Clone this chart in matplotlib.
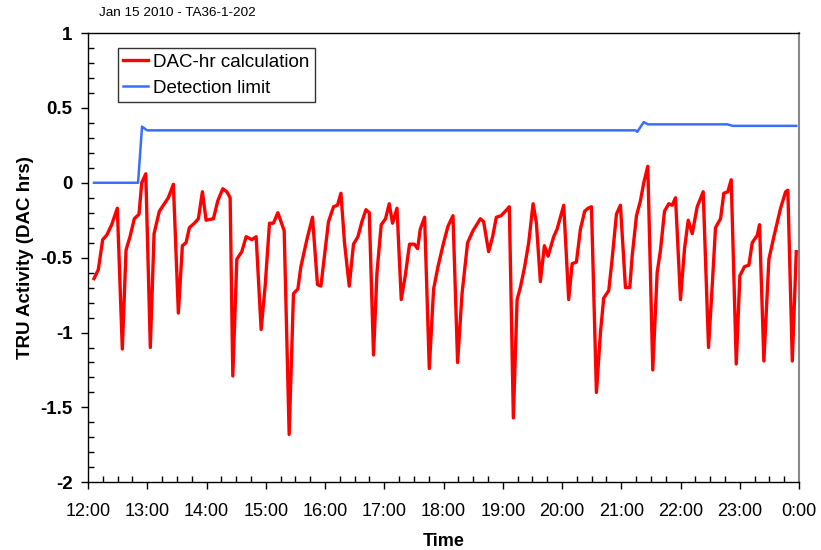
import matplotlib
matplotlib.use("Agg")
import matplotlib.pyplot as plt
from matplotlib.ticker import MultipleLocator, FixedLocator

plt.rcParams['font.family'] = ['Liberation Sans', 'DejaVu Sans']

# Hours after 12:00 (noon) on Jan 15 2010
red_t = [0.101, 0.174, 0.248, 0.316, 0.400, 0.495, 0.579, 0.642, 0.709, 0.782,
         0.861, 0.907, 0.975, 1.052, 1.115, 1.204, 1.272, 1.356, 1.441, 1.525,
         1.593, 1.655, 1.711, 1.796, 1.863, 1.931, 1.993, 2.117, 2.191, 2.275,
         2.343, 2.399, 2.444, 2.512, 2.596, 2.669, 2.765, 2.838, 2.922, 2.990,
         3.063, 3.130, 3.204, 3.311, 3.395, 3.468, 3.542, 3.593, 3.694, 3.789,
         3.873, 3.931, 4.059, 4.144, 4.211, 4.269, 4.329, 4.409, 4.481, 4.556,
         4.623, 4.691, 4.747, 4.819, 4.877, 4.949, 5.022, 5.084, 5.140, 5.215,
         5.287, 5.355, 5.427, 5.507, 5.563, 5.608, 5.681, 5.760, 5.833, 5.907,
         6.002, 6.076, 6.160, 6.238, 6.313, 6.407, 6.498, 6.622, 6.677, 6.762,
         6.829, 6.892, 6.971, 7.044, 7.111, 7.179, 7.242, 7.297, 7.370, 7.438,
         7.512, 7.568, 7.635, 7.703, 7.765, 7.860, 7.917, 8.029, 8.113, 8.171,
         8.243, 8.311, 8.383, 8.441, 8.497, 8.581, 8.649, 8.704, 8.789, 8.846,
         8.919, 8.986, 9.071, 9.144, 9.184, 9.257, 9.324, 9.380, 9.448, 9.532,
         9.606, 9.662, 9.730, 9.802, 9.860, 9.916, 10.000, 10.068, 10.130, 10.198,
         10.282, 10.383, 10.473, 10.535, 10.591, 10.676, 10.731, 10.799, 10.856, 10.941,
         11.002, 11.081, 11.154, 11.211, 11.296, 11.334, 11.407, 11.492, 11.576, 11.689,
         11.774, 11.812, 11.887, 11.954]
red_v = [-0.64, -0.58, -0.38, -0.35, -0.28, -0.17, -1.11, -0.45, -0.36, -0.24,
         -0.21, 0.00, 0.06, -1.10, -0.34, -0.19, -0.15, -0.10, -0.01, -0.87,
         -0.42, -0.40, -0.30, -0.27, -0.24, -0.06, -0.25, -0.24, -0.12, -0.04,
         -0.06, -0.10, -1.29, -0.51, -0.46, -0.36, -0.38, -0.36, -0.98, -0.69,
         -0.27, -0.27, -0.20, -0.32, -1.68, -0.74, -0.71, -0.56, -0.38, -0.23,
         -0.68, -0.69, -0.26, -0.16, -0.15, -0.07, -0.40, -0.69, -0.41, -0.36,
         -0.26, -0.18, -0.20, -1.15, -0.60, -0.28, -0.24, -0.14, -0.27, -0.17,
         -0.78, -0.62, -0.41, -0.41, -0.44, -0.31, -0.23, -1.24, -0.71, -0.56,
         -0.40, -0.29, -0.22, -1.20, -0.74, -0.40, -0.32, -0.24, -0.26, -0.46,
         -0.36, -0.23, -0.22, -0.19, -0.16, -1.57, -0.78, -0.70, -0.56, -0.40,
         -0.14, -0.27, -0.66, -0.42, -0.49, -0.36, -0.31, -0.15, -0.78, -0.54,
         -0.53, -0.31, -0.19, -0.17, -0.16, -1.40, -1.00, -0.77, -0.72, -0.51,
         -0.21, -0.15, -0.70, -0.70, -0.49, -0.22, -0.12, 0.00, 0.11, -1.25,
         -0.60, -0.45, -0.19, -0.14, -0.15, -0.10, -0.78, -0.44, -0.25, -0.34,
         -0.16, -0.06, -1.10, -0.69, -0.30, -0.24, -0.07, -0.06, 0.02, -1.21,
         -0.62, -0.56, -0.55, -0.40, -0.35, -0.28, -1.19, -0.51, -0.36, -0.17,
         -0.06, -0.05, -1.19, -0.46]

blue_t = [0.101, 0.845, 0.912, 0.997, 9.24, 9.27, 9.38, 9.45, 10.79, 10.88, 11.954]
blue_v = [0.00, 0.00, 0.375, 0.35, 0.35, 0.34, 0.405, 0.39, 0.39, 0.38, 0.38]

x_ticks = list(range(0, 13))
x_labels = ["12:00", "13:00", "14:00", "15:00", "16:00", "17:00", "18:00",
            "19:00", "20:00", "21:00", "22:00", "23:00", "0:00"]
y_ticks = [1, 0.5, 0, -0.5, -1, -1.5, -2]
y_labels = ["1", "0.5", "0", "-0.5", "-1", "-1.5", "-2"]

fig = plt.figure(figsize=(8.21, 5.5), dpi=100)
ax = fig.add_axes([88/821, 1-482.3/550, (799-88)/821, (482.3-33)/550])

ax.plot(red_t, red_v, color='#FF0000', lw=2.4, label='DAC-hr calculation', zorder=3,
        solid_joinstyle='round')
ax.plot(blue_t, blue_v, color='#3A6EFF', lw=1.8, label='Detection limit', zorder=2)

ax.set_xlim(0, 12)
ax.set_ylim(-2, 1)
ax.xaxis.set_major_locator(FixedLocator(x_ticks))
ax.set_xticklabels(x_labels, fontsize=13)
ax.xaxis.set_minor_locator(MultipleLocator(0.25))
ax.yaxis.set_major_locator(FixedLocator(y_ticks))
ax.set_yticklabels(y_labels, fontsize=13.5, fontweight='bold')
ax.yaxis.set_minor_locator(MultipleLocator(0.1))

ax.tick_params(axis='both', which='major', direction='out', length=5, width=1, color='black')
ax.tick_params(axis='both', which='minor', direction='in', length=4.5, width=1, color='black')
ax.tick_params(axis='x', which='major', pad=10)
ax.tick_params(axis='y', which='major', pad=6)

for s in ['left', 'bottom', 'top']:
    ax.spines[s].set_color('black')
    ax.spines[s].set_linewidth(1.0)
ax.spines['right'].set_color('#888888')
ax.spines['right'].set_linewidth(1.5)

ax.set_xlabel('Time', fontsize=13, fontweight='bold', labelpad=9)
ax.set_ylabel('TRU Activity (DAC hrs)', fontsize=13.5, fontweight='bold', labelpad=5)

leg = ax.legend(loc='upper left', bbox_to_anchor=(0.042, 0.9666), borderaxespad=0,
                fontsize=13.5, frameon=True, fancybox=False, handlelength=1.3,
                handletextpad=0.3, borderpad=0.3, labelspacing=0.46)
leg.get_frame().set_edgecolor('black')
leg.get_frame().set_linewidth(1.0)

fig.text(99/821, 1-12.5/550, 'Jan 15 2010 - TA36-1-202', fontsize=9.7,
         ha='left', va='center')

fig.savefig('out.png', dpi=100)
